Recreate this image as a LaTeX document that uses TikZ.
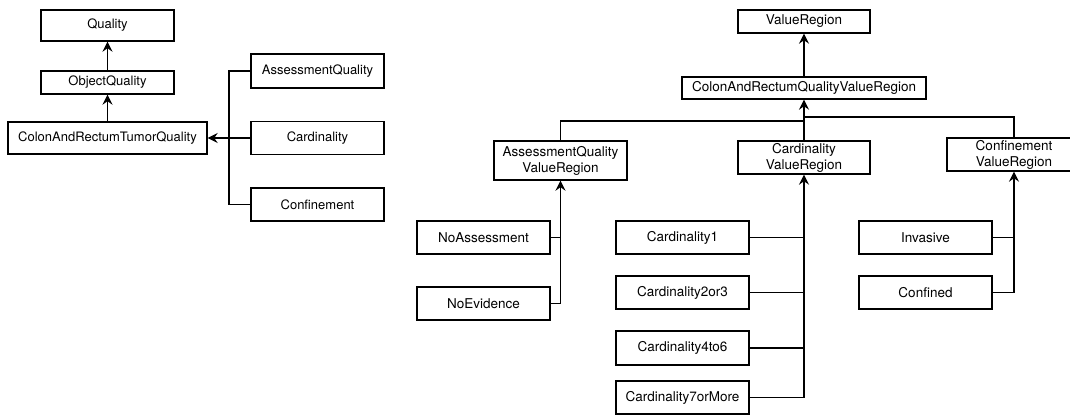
\documentclass[tikz,border=0pt]{standalone}
\usepackage{fontspec}
\setmainfont{TeX Gyre Heros}
\usetikzlibrary{arrows.meta}

\tikzset{
  cls/.style={draw=black, line width=1.4pt, fill=white, inner sep=0pt,
    align=center, minimum width=133pt, minimum height=33pt,
    font=\fontsize{13}{16}\selectfont},
  wire/.style={draw=black, line width=1.4pt},
  isa/.style={wire, -{Stealth[length=10pt, width=10pt, inset=3.5pt]}}
}

\begin{document}
\begin{tikzpicture}[x=1pt, y=-1pt]
\useasboundingbox (0,0) rectangle (1070,415);
\clip (0,0) rectangle (1070,415);

% ---- quality hierarchy ----
\node[cls, minimum height=31pt] (q)    at (107.5,25.5) {Quality};
\node[cls, minimum height=23pt] (oq)   at (107.5,82.5) {ObjectQuality};
\node[cls, minimum width=199pt, minimum height=32pt] (crtq) at (107.5,138) {ColonAndRectumTumorQuality};
\node[cls, minimum height=34pt] (aq)   at (317.5,71)    {AssessmentQuality};
\node[cls] (card) at (317.5,138)   {Cardinality};
\node[cls] (conf) at (317.5,204.5) {Confinement};
\coordinate (lbus) at (229,138);

\draw[isa] (oq.north) -- (q.south);
\draw[isa] (crtq.north) -- (oq.south);
\draw[wire] (aq.west) -| (lbus) |- (conf.west);
\draw[isa] (card.west) -- (crtq.east);

% ---- value region hierarchy ----
\begin{scope}[cls/.append style={font=\fontsize{13.5}{16}\selectfont}]
\node[cls, minimum width=132pt, minimum height=23pt] (vr)  at (804,21.5) {ValueRegion};
\node[cls, minimum width=244pt, minimum height=22pt] (crq) at (804,88)   {ColonAndRectumQualityValueRegion};
\node[cls, minimum height=39pt] (aqvr) at (560.5,160.5) {AssessmentQuality\\ValueRegion};
\node[cls, minimum width=132pt] (cvr) at (804,157.5) {Cardinality\\ValueRegion};
\node[cls, minimum width=134pt] (confvr) at (1014,154.5) {Confinement\\ValueRegion};

\node[cls] (noa) at (483.5,237.5) {NoAssessment};
\node[cls] (noe) at (483.5,303.5) {NoEvidence};

\node[cls] (c1)  at (682.5,237.5) {Cardinality1};
\node[cls] (c23) at (682.5,292.5) {Cardinality2or3};
\node[cls, minimum height=34pt] (c46) at (682.5,348) {Cardinality4to6};
\node[cls] (c7)  at (682.5,397.5) {Cardinality7orMore};

\node[cls] (inv) at (925.5,237.5) {Invasive};
\node[cls] (cfd) at (925.5,292.5) {Confined};
\end{scope}

\coordinate (jl) at (804,121);
\coordinate (jr) at (804,117);

\draw[isa] (crq.north) -- (vr.south);
\draw[isa] (cvr.north) -- (crq.south);
\draw[wire] (aqvr.north) |- (jl);
\draw[wire] (confvr.north) |- (jr);

\draw[isa] (noe.east) -| (aqvr.south);
\draw[wire] (noa.east) -- (noa.east -| aqvr.south);

\draw[isa] (c7.east) -| (cvr.south);
\draw[wire] (c1.east) -- (c1.east -| cvr.south);
\draw[wire] (c23.east) -- (c23.east -| cvr.south);
\draw[wire] (c46.east) -- (c46.east -| cvr.south);

\draw[isa] (cfd.east) -| (confvr.south);
\draw[wire] (inv.east) -- (inv.east -| confvr.south);
\end{tikzpicture}
\end{document}
